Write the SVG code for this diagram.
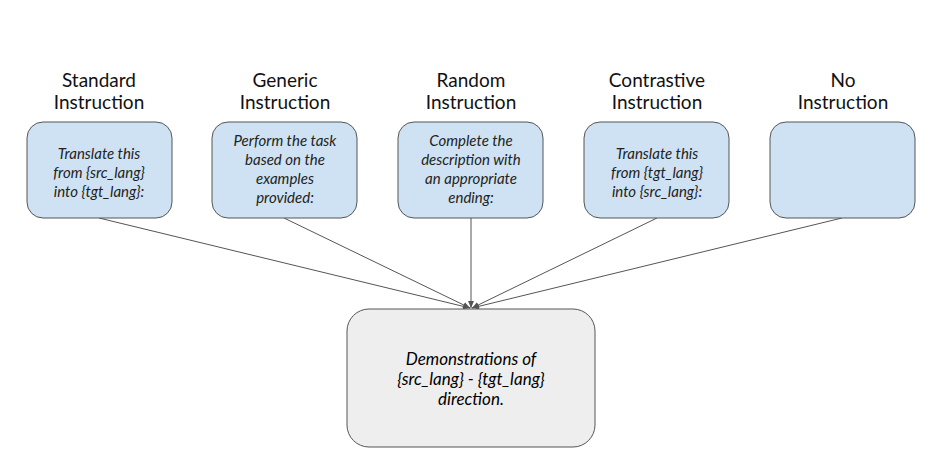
<svg xmlns="http://www.w3.org/2000/svg" width="945" height="463" viewBox="0 0 945 463">
<style>
.title{font-family:Lato,"Open Sans",sans-serif;font-size:19px;fill:#111;text-anchor:middle}
.inst{font-family:Lato,"Open Sans",sans-serif;font-size:15px;font-style:italic;fill:#222;text-anchor:middle}
.demo{font-family:Lato,"Open Sans",sans-serif;font-size:17px;font-style:italic;fill:#000;text-anchor:middle}
.box{fill:#cfe2f3;stroke:#555;stroke-width:1}
.out{fill:#eeeeee;stroke:#555;stroke-width:1}
.conn{stroke:#555;stroke-width:1;fill:none;marker-end:url(#arr)}
</style>
<defs>
<marker id="arr" markerWidth="8" markerHeight="8" refX="7" refY="4" orient="auto" markerUnits="userSpaceOnUse">
<path d="M0,1 L7,4 L0,7 Z" fill="#555"/>
</marker>
</defs>
<rect width="945" height="463" fill="#fff"/>
<g id="connectors">
<line class="conn" x1="99" y1="218" x2="470" y2="308"/>
<line class="conn" x1="284" y1="218" x2="470" y2="308"/>
<line class="conn" x1="471" y1="218" x2="471" y2="308"/>
<line class="conn" x1="657" y1="218" x2="472" y2="308"/>
<line class="conn" x1="842" y1="218" x2="472" y2="308"/>
</g>
<g id="standard">
<text class="title" x="99" y="87">Standard</text>
<text class="title" x="99" y="109">Instruction</text>
<rect class="box" x="27" y="122" width="145" height="96" rx="16"/>
<text class="inst" x="99" y="159">Translate this</text>
<text class="inst" x="99" y="178">from {src_lang}</text>
<text class="inst" x="99" y="197">into {tgt_lang}:</text>
</g>
<g id="generic">
<text class="title" x="285" y="87">Generic</text>
<text class="title" x="285" y="109">Instruction</text>
<rect class="box" x="212" y="122" width="145" height="96" rx="16"/>
<text class="inst" x="285" y="146">Perform the task</text>
<text class="inst" x="285" y="165">based on the</text>
<text class="inst" x="285" y="184">examples</text>
<text class="inst" x="285" y="203">provided:</text>
</g>
<g id="random">
<text class="title" x="471" y="87">Random</text>
<text class="title" x="471" y="109">Instruction</text>
<rect class="box" x="398" y="122" width="145" height="96" rx="16"/>
<text class="inst" x="471" y="146">Complete the</text>
<text class="inst" x="471" y="165">description with</text>
<text class="inst" x="471" y="184">an appropriate</text>
<text class="inst" x="471" y="203">ending:</text>
</g>
<g id="contrastive">
<text class="title" x="657" y="87">Contrastive</text>
<text class="title" x="657" y="109">Instruction</text>
<rect class="box" x="584" y="122" width="145" height="96" rx="16"/>
<text class="inst" x="657" y="159">Translate this</text>
<text class="inst" x="657" y="178">from {tgt_lang}</text>
<text class="inst" x="657" y="197">into {src_lang}:</text>
</g>
<g id="none">
<text class="title" x="843" y="87">No</text>
<text class="title" x="843" y="109">Instruction</text>
<rect class="box" x="770" y="122" width="145" height="96" rx="16"/>
</g>
<g id="demonstrations">
<rect class="out" x="347" y="309" width="248" height="138" rx="22"/>
<text class="demo" x="471" y="365">Demonstrations of</text>
<text class="demo" x="471" y="385">{src_lang} - {tgt_lang}</text>
<text class="demo" x="471" y="405">direction.</text>
</g>
</svg>
